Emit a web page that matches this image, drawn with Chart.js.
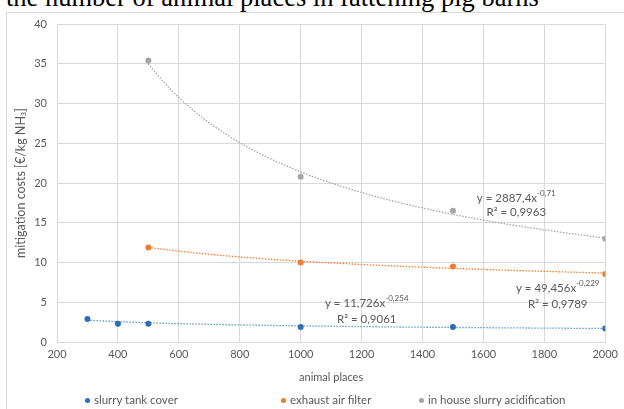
<!DOCTYPE html>
<html>
<head>
<meta charset="utf-8">
<script src="https://cdn.jsdelivr.net/npm/chart.js@4"></script>
<style>
  html, body { margin: 0; padding: 0; background: #fff; }
  body { width: 624px; height: 409px; position: relative; overflow: hidden; }
  #caption {
    position: absolute; left: 6px; top: -16px; white-space: nowrap;
    font: 26.5px/26px "Liberation Serif", "Times New Roman", serif; color: #000;
  }
  #frame {
    position: absolute; left: 6px; top: 12px; width: 660px; height: 440px;
    border: 1px solid #d9d9d9;
  }
  #chart { position: absolute; left: 0; top: 0; }
  #legend {
    position: absolute; left: 0; top: 393px; width: 624px; height: 14px;
    font: 11.5px Lato, "Open Sans", sans-serif; color: #595959;
  }
  #legend .item { position: absolute; top: 0; line-height: 14px; white-space: nowrap; }
  #legend .dot {
    display: inline-block; width: 5px; height: 5px; border-radius: 50%;
    margin-right: 4px; vertical-align: middle; position: relative; top: -1px;
  }
</style>
</head>
<body>
<div id="caption">the number of animal places in fattening pig barns</div>
<div id="frame"></div>
<canvas id="chart" width="624" height="409"></canvas>
<div id="legend"></div>

<script>
(function () {
  "use strict";

  /* ---------- Data ---------- */
  const SERIES_NAMES = ["slurry tank cover", "exhaust air filter", "in house slurry acidification"];

  const X_TANK = [300, 400, 500, 1000, 1500, 2000];
  const Y_TANK = [2.9, 2.3, 2.3, 1.9, 1.9, 1.7];

  const X_FILTER = [500, 1000, 1500, 2000];
  const Y_FILTER = [11.9, 10.0, 9.5, 8.55];

  const X_ACID = [500, 1000, 1500, 2000];
  const Y_ACID = [35.4, 20.8, 16.5, 13.0];

  // power trendlines y = a * x^b, as printed on the chart
  const TREND_A = [11.726, 49.456, 2887.4];
  const TREND_B = [-0.254, -0.229, -0.71];
  const TREND_A_TXT = ["11,726", "49,456", "2887,4"];
  const TREND_B_TXT = ["-0,254", "-0,229", "-0,71"];
  const TREND_R2_TXT = ["0,9061", "0,9789", "0,9963"];

  const X_TICKS = [200, 400, 600, 800, 1000, 1200, 1400, 1600, 1800, 2000];
  const Y_TICKS = [0, 5, 10, 15, 20, 25, 30, 35, 40];

  /* ---------- Styling ---------- */
  const POINT_COLORS = ["#2e6db4", "#ed7d31", "#a5a5a5"];
  const TREND_COLORS = ["#5b9bd5", "#ed7d31", "#a5a5a5"];
  const GRID = "#d9d9d9";
  const TEXT = "#595959";
  const FONT = "Lato, 'Open Sans', sans-serif";

  // where the equation labels sit, in axis units (x, y of eq line, y of R² line)
  const LABEL_POS = [
    { x: 1217, y1: 4.9, y2: 2.9 },
    { x: 1844, y1: 6.8, y2: 4.8 },
    { x: 1708, y1: 18.1, y2: 16.35 },
  ];

  const XS = [X_TANK, X_FILTER, X_ACID];
  const YS = [Y_TANK, Y_FILTER, Y_ACID];

  function toPoints(xs, ys) {
    return xs.map((x, i) => ({ x: x, y: ys[i] }));
  }

  /* ---------- Trendlines + equations ---------- */
  const trendPlugin = {
    id: "powerTrend",
    beforeDatasetsDraw(chart) {
      const { ctx } = chart;
      const xs = chart.scales.x;
      const ys = chart.scales.y;
      ctx.save();
      for (let s = 0; s < 3; s++) {
        const xArr = XS[s];
        const p0 = xs.getPixelForValue(Math.min.apply(null, xArr));
        const p1 = xs.getPixelForValue(Math.max.apply(null, xArr));
        ctx.beginPath();
        for (let px = p0; px <= p1 + 0.01; px += 2) {
          const xv = xs.getValueForPixel(px);
          const py = ys.getPixelForValue(TREND_A[s] * Math.pow(xv, TREND_B[s]));
          if (px === p0) ctx.moveTo(px, py);
          else ctx.lineTo(px, py);
        }
        ctx.strokeStyle = TREND_COLORS[s];
        ctx.lineWidth = 1.3;
        ctx.setLineDash([1.5, 1.5]);
        ctx.stroke();
      }
      ctx.restore();
    },
    afterDatasetsDraw(chart) {
      const { ctx } = chart;
      const xs = chart.scales.x;
      const ys = chart.scales.y;
      ctx.save();
      ctx.fillStyle = TEXT;
      ctx.textBaseline = "middle";
      for (let s = 0; s < 3; s++) {
        const pos = LABEL_POS[s];
        const cx = xs.getPixelForValue(pos.x);
        const main = "y = " + TREND_A_TXT[s] + "x";
        const sup = TREND_B_TXT[s];
        ctx.font = "11.5px " + FONT;
        const wMain = ctx.measureText(main).width;
        ctx.font = "8px " + FONT;
        const wSup = ctx.measureText(sup).width;
        const left = cx - (wMain + wSup) / 2;
        const y1 = ys.getPixelForValue(pos.y1);
        ctx.textAlign = "left";
        ctx.font = "11.5px " + FONT;
        ctx.fillText(main, left, y1);
        ctx.font = "8px " + FONT;
        ctx.fillText(sup, left + wMain, y1 - 5);
        ctx.font = "11.5px " + FONT;
        ctx.textAlign = "center";
        ctx.fillText("R\u00b2 = " + TREND_R2_TXT[s], cx, ys.getPixelForValue(pos.y2));
      }
      ctx.restore();
    },
  };

  /* ---------- Chart ---------- */
  const datasets = SERIES_NAMES.map((name, s) => ({
    label: name,
    data: toPoints(XS[s], YS[s]),
    showLine: false,
    pointRadius: 3,
    pointHoverRadius: 3,
    pointBorderWidth: 0,
    pointBackgroundColor: POINT_COLORS[s],
    backgroundColor: POINT_COLORS[s],
    borderColor: POINT_COLORS[s],
  }));

  const tickFont = { family: FONT, size: 11 };
  const plain = (v) => String(v);

  new Chart(document.getElementById("chart").getContext("2d"), {
    type: "scatter",
    data: { datasets: datasets },
    plugins: [trendPlugin],
    options: {
      responsive: false,
      animation: false,
      devicePixelRatio: 1,
      layout: { padding: { left: 0, right: 13, top: 24, bottom: 21 } },
      plugins: { legend: { display: false }, tooltip: { enabled: false } },
      scales: {
        x: {
          type: "linear",
          min: X_TICKS[0],
          max: X_TICKS[X_TICKS.length - 1],
          afterBuildTicks: (scale) => { scale.ticks = X_TICKS.map((v) => ({ value: v })); },
          afterFit: (scale) => { scale.height = 46; },
          grid: { color: GRID, drawTicks: false },
          border: { color: GRID },
          ticks: { color: TEXT, font: tickFont, padding: 6, maxRotation: 0, callback: plain },
          title: {
            display: true, text: "animal places", color: TEXT,
            font: tickFont, padding: { top: 4, bottom: 4 },
          },
        },
        y: {
          type: "linear",
          min: Y_TICKS[0],
          max: Y_TICKS[Y_TICKS.length - 1],
          afterBuildTicks: (scale) => { scale.ticks = Y_TICKS.map((v) => ({ value: v })); },
          afterFit: (scale) => { scale.width = 57; },
          grid: { color: GRID, drawTicks: false },
          border: { color: GRID },
          ticks: { color: TEXT, font: tickFont, padding: 10, callback: plain },
          title: {
            display: true, text: "mitigation costs [\u20ac/kg NH\u2083]", color: TEXT,
            font: { family: FONT, size: 12.5 }, padding: { top: 13, bottom: 13 },
          },
        },
      },
    },
  });

  /* ---------- Legend (HTML) ---------- */
  const LEGEND_X = [85, 281, 419];
  const legend = document.getElementById("legend");
  SERIES_NAMES.forEach((name, s) => {
    const item = document.createElement("span");
    item.className = "item";
    item.style.left = LEGEND_X[s] + "px";
    item.innerHTML = '<span class="dot" style="background:' + POINT_COLORS[s] + '"></span>' + name;
    legend.appendChild(item);
  });
})();
</script>
</body>
</html>
